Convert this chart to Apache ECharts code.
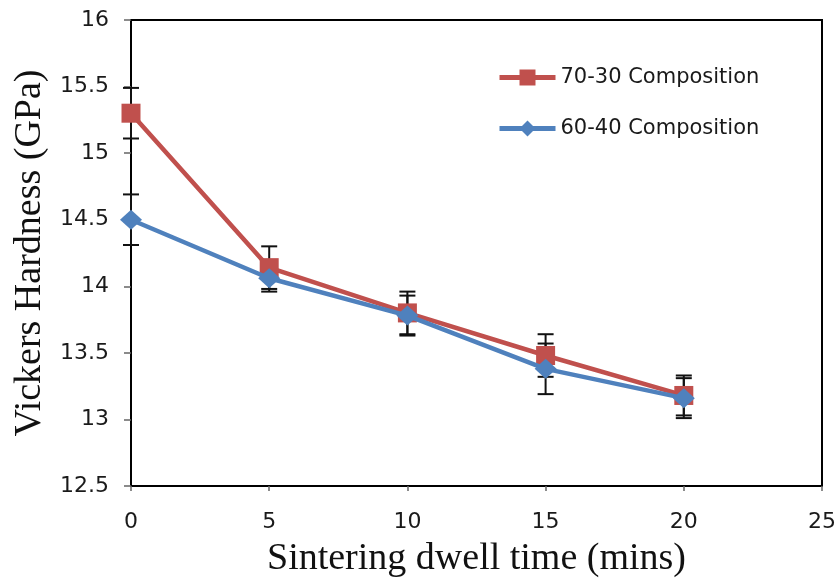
<!DOCTYPE html>
<html>
<head>
<meta charset="utf-8">
<script src="https://cdn.jsdelivr.net/npm/echarts@6/dist/echarts.min.js"></script>
<style>
  html, body { margin: 0; padding: 0; background: #fff; }
  #chart { width: 840px; height: 584px; }
</style>
</head>
<body>
<div id="chart"></div>
<script>
// Sintering dwell time (mins) and measured Vickers hardness (GPa) with ± error
const dwellTimes = [0, 5, 10, 15, 20];
const hardness7030 = [15.30, 14.14, 13.80, 13.48, 13.18];
const error7030 = [0.19, 0.16, 0.16, 0.16, 0.15];
const hardness6040 = [14.50, 14.06, 13.78, 13.38, 13.16];
const error6040 = [0.19, 0.10, 0.15, 0.19, 0.15];

const seriesNames = ['70-30 Composition', '60-40 Composition'];
const seriesColors = ['#C0504D', '#4F81BD'];

const pairs = (xs, ys) => xs.map((x, i) => [x, ys[i]]);
const errorRows = (xs, ys, es) => xs.map((x, i) => [x, ys[i] - es[i], ys[i] + es[i]]);

// Vertical error bar with caps, drawn through the axis scales
function renderErrorBar(params, api) {
  const x = api.value(0);
  const lo = api.coord([x, api.value(1)]);
  const hi = api.coord([x, api.value(2)]);
  const half = 8;
  const style = { stroke: '#111', lineWidth: 2 };
  return {
    type: 'group',
    children: [
      { type: 'line', shape: { x1: lo[0], y1: lo[1], x2: hi[0], y2: hi[1] }, style },
      { type: 'line', shape: { x1: lo[0] - half, y1: lo[1], x2: lo[0] + half, y2: lo[1] }, style },
      { type: 'line', shape: { x1: hi[0] - half, y1: hi[1], x2: hi[0] + half, y2: hi[1] }, style }
    ]
  };
}

const tickFont = { fontFamily: 'DejaVu Sans', fontSize: 22, color: '#1a1a1a' };
const titleFont = { fontFamily: 'Liberation Serif', fontSize: 38, color: '#111' };

const chart = echarts.init(document.getElementById('chart'), null, { renderer: 'canvas' });
chart.setOption({
  animation: false,
  backgroundColor: '#fff',
  grid: {
    left: 131, right: 18, top: 20, bottom: 98,
    show: true, borderColor: '#000', borderWidth: 2
  },
  legend: {
    orient: 'vertical',
    left: 497, top: 67, padding: 0,
    itemWidth: 56, itemHeight: 20, itemGap: 30,
    lineStyle: { width: 5 },
    textStyle: { fontFamily: 'DejaVu Sans', fontSize: 21, color: '#1a1a1a' },
    data: seriesNames
  },
  xAxis: {
    type: 'value', min: 0, max: 25, interval: 5,
    name: 'Sintering dwell time (mins)',
    nameLocation: 'middle', nameGap: 54,
    nameTextStyle: titleFont,
    axisLine: { show: true, onZero: false, lineStyle: { color: '#000', width: 2 } },
    axisTick: { show: true, length: 5, lineStyle: { color: '#666', width: 1.5 } },
    axisLabel: Object.assign({ margin: 25 }, tickFont),
    splitLine: { show: false }
  },
  yAxis: {
    type: 'value', min: 12.5, max: 16, interval: 0.5,
    name: 'Vickers Hardness (GPa)',
    nameLocation: 'middle', nameGap: 76, nameRotate: 90,
    nameTextStyle: titleFont,
    axisLine: { show: true, lineStyle: { color: '#000', width: 2 } },
    axisTick: { show: true, length: 7, lineStyle: { color: '#666', width: 1.5 } },
    axisLabel: Object.assign({ margin: 22 }, tickFont),
    splitLine: { show: false }
  },
  series: [
    {
      type: 'custom', name: 'err7030', z: 1, silent: true,
      renderItem: renderErrorBar,
      encode: { x: 0, y: [1, 2] },
      data: errorRows(dwellTimes, hardness7030, error7030)
    },
    {
      type: 'custom', name: 'err6040', z: 1, silent: true,
      renderItem: renderErrorBar,
      encode: { x: 0, y: [1, 2] },
      data: errorRows(dwellTimes, hardness6040, error6040)
    },
    {
      type: 'line', name: seriesNames[0], z: 2,
      data: pairs(dwellTimes, hardness7030),
      symbol: 'rect', symbolSize: 19,
      lineStyle: { color: seriesColors[0], width: 4.5 },
      itemStyle: { color: seriesColors[0] }
    },
    {
      type: 'line', name: seriesNames[1], z: 3,
      data: pairs(dwellTimes, hardness6040),
      symbol: 'diamond', symbolSize: [22, 20],
      lineStyle: { color: seriesColors[1], width: 4.5 },
      itemStyle: { color: seriesColors[1] }
    }
  ]
});
</script>
</body>
</html>
